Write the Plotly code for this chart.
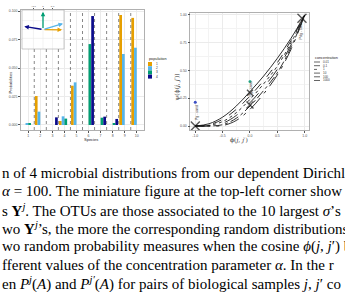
import plotly.graph_objects as go

W, H = 345, 292
def PX(px): return px / W
def PY(py): return 1 - py / H

# ---------------- data ----------------
species = [1, 2, 3, 4, 5, 6, 7, 8, 9, 10]
populations = ["1", "2", "3", "4"]
pop_colors = ["#E69F00", "#56B4E9", "#009E73", "#0B0B8A"]
pop1 = [0.0, 0.0254, 0.0, 0.0035, 0.0345, 0.0, 0.0, 0.0, 0.0965, 0.0940]
pop2 = [0.0012, 0.0117, 0.0, 0.0076, 0.0374, 0.0, 0.0, 0.0, 0.0623, 0.0678]
pop3 = [0.0010, 0.0, 0.0, 0.0056, 0.0, 0.0710, 0.0064, 0.0015, 0.0, 0.0]
pop4 = [0.0, 0.0, 0.0067, 0.0, 0.0, 0.0956, 0.0073, 0.0053, 0.0, 0.0]
pop_values = [pop1, pop2, pop3, pop4]
prob_ticks = [0.0, 0.025, 0.05, 0.075, 0.1]
prob_ticktext = ["0.000", "0.025", "0.050", "0.075", "0.100"]

# inset (2-D view of the Y^j vectors)
inset_x = [1.0, 1.05, 0.0, -0.98]
inset_y = [-0.02, 0.33, 1.0, 0.17]
inset_ticks = [-0.5, 0.0, 0.5]

# right panel
phi = [-1.0, -0.75, -0.5, -0.25, 0.0, 0.25, 0.5, 0.75, 1.0]
conc_labels = ["0.01", "0.1", "1", "10", "100", "1000"]
psi_c1 = [0.0, 0.020, 0.080, 0.180, 0.310, 0.450, 0.610, 0.790, 1.0]
psi_c2 = [0.0, 0.012, 0.060, 0.150, 0.270, 0.410, 0.570, 0.770, 1.0]
psi_c3 = [0.0, 0.006, 0.040, 0.120, 0.240, 0.380, 0.540, 0.750, 1.0]
psi_c4 = [0.0, 0.002, 0.025, 0.095, 0.210, 0.350, 0.510, 0.730, 1.0]
psi_c5 = [0.0, 0.000, 0.012, 0.070, 0.180, 0.320, 0.480, 0.710, 1.0]
psi_c6 = [0.0, 0.000, 0.004, 0.050, 0.150, 0.290, 0.460, 0.690, 1.0]
psi_curves = [psi_c1, psi_c2, psi_c3, psi_c4, psi_c5, psi_c6]
conc_dashes = ["solid", "dash", "dot", "longdash", "dashdot", "longdashdot"]
mark_phi = [-1.0, 0.0, 0.0, 0.95]
mark_psi = [0.0, 0.19, 0.30, 0.97]
mark_size = [9, 7, 6, 9]
pair_phi = [-1.0, 0.0]
pair_psi = [0.215, 0.40]
pair_colors = ["#3b4fc4", "#2bb59a"]
pair_label_phi = [-0.98, 0.02, 0.93]
pair_label_psi = [0.12, 0.33, 0.86]
pair_labels = ["Pg - sand", "Pg - sand", "Pdg - sand"]
phi_ticks = [-1.0, -0.5, 0.0, 0.5, 1.0]
psi_ticks = [0.0, 0.25, 0.5, 0.75, 1.0]
psi_ticktext = ["0.00", "0.25", "0.50", "0.75", "1.00"]

caption = [
    "n of 4 microbial distributions from our dependent Dirichl",
    "<i>α</i> = 100. The miniature figure at the top-left corner show",
    "s <b>Y</b><sup><i>j</i></sup>. The OTUs are those associated to the 10 largest <i>σ</i>’s",
    "wo <b>Y</b><sup><i>j</i></sup>’s, the more the corresponding random distributions",
    "wo random probability measures when the cosine <i>ϕ</i>(<i>j</i>, <i>j</i>′) be",
    "fferent values of the concentration parameter <i>α</i>. In the r",
    "en <i>P<sup>j</sup></i>(<i>A</i>) and <i>P<sup>j′</sup></i>(<i>A</i>) for pairs of biological samples <i>j</i>, <i>j</i>′ co",
]
caption_y = [173, 191, 210, 228, 246, 265, 283]

# ---------------- figure ----------------
fig = go.Figure()
for name, vals, col in zip(populations, pop_values, pop_colors):
    fig.add_trace(go.Bar(x=species, y=vals, name=name, marker_color=col,
                         marker_line_width=0, xaxis="x", yaxis="y", showlegend=False))

for c, ys, d in zip(conc_labels, psi_curves, conc_dashes):
    fig.add_trace(go.Scatter(x=phi, y=ys, mode="lines", line=dict(color="#1a1a1a", width=0.9, dash=d, shape="spline"),
                             xaxis="x3", yaxis="y3", showlegend=False, name=c))
fig.add_trace(go.Scatter(x=mark_phi, y=mark_psi, mode="markers",
                         marker=dict(symbol="x-thin", size=mark_size, line=dict(width=1.4, color="#111")),
                         xaxis="x3", yaxis="y3", showlegend=False))
fig.add_trace(go.Scatter(x=pair_phi, y=pair_psi, mode="markers",
                         marker=dict(size=3, color=pair_colors),
                         xaxis="x3", yaxis="y3", showlegend=False))

grid = "#ebebeb"
tf = dict(size=3.5, color="#555", family="Liberation Sans")
shapes = []
annotations = []

# dotted separators between species
for i in range(len(species) - 1):
    b = species[i] + 0.5
    shapes.append(dict(type="line", xref="x", yref="y domain", x0=b, x1=b, y0=0, y1=1,
                       line=dict(color="#555", width=0.7, dash="dot"), layer="above"))

# inset background + grid + border (covers main plot)
shapes.append(dict(type="rect", xref="x2 domain", yref="y2 domain", x0=0, x1=1, y0=0, y1=1,
                   fillcolor="white", line=dict(width=0), layer="above"))
for t in inset_ticks:
    shapes.append(dict(type="line", xref="x2", yref="y2 domain", x0=t, x1=t, y0=0, y1=1,
                       line=dict(color=grid, width=0.6), layer="above"))
    shapes.append(dict(type="line", xref="x2 domain", yref="y2", x0=0, x1=1, y0=t, y1=t,
                       line=dict(color=grid, width=0.6), layer="above"))
shapes.append(dict(type="rect", xref="x2 domain", yref="y2 domain", x0=0, x1=1, y0=0, y1=1,
                   line=dict(color="#aaa", width=0.6), layer="above"))
for xt, yt, col in zip(inset_x, inset_y, pop_colors):
    annotations.append(dict(x=xt, y=yt, ax=0, ay=0, xref="x2", yref="y2", axref="x2", ayref="y2",
                            text="", showarrow=True, arrowhead=2, arrowsize=0.7, arrowwidth=1.3,
                            arrowcolor=col))

# population legend (manual)
annotations.append(dict(x=PX(147), y=PY(59), xref="paper", yref="paper", text="population",
                        showarrow=False, xanchor="left", yanchor="middle",
                        font=dict(size=3.8, color="#222", family="Liberation Sans")))
for k, (name, col) in enumerate(zip(populations, pop_colors)):
    yc = 64 + 4.2 * k
    shapes.append(dict(type="rect", xref="paper", yref="paper", x0=PX(148), x1=PX(152),
                       y0=PY(yc + 2), y1=PY(yc - 2), fillcolor=col, line=dict(width=0)))
    annotations.append(dict(x=PX(153.5), y=PY(yc), xref="paper", yref="paper", text=name,
                            showarrow=False, xanchor="left", yanchor="middle",
                            font=dict(size=3.2, color="#333", family="Liberation Sans")))

# concentration legend (manual)
annotations.append(dict(x=PX(313), y=PY(58), xref="paper", yref="paper", text="concentration",
                        showarrow=False, xanchor="left", yanchor="middle",
                        font=dict(size=3.8, color="#222", family="Liberation Sans")))
for k, (c, d) in enumerate(zip(conc_labels, conc_dashes)):
    yc = 62 + 3.7 * k
    shapes.append(dict(type="line", xref="paper", yref="paper", x0=PX(314), x1=PX(320),
                       y0=PY(yc), y1=PY(yc), line=dict(color="#222", width=0.7, dash=d)))
    annotations.append(dict(x=PX(321), y=PY(yc), xref="paper", yref="paper", text=c,
                            showarrow=False, xanchor="left", yanchor="middle",
                            font=dict(size=3.0, color="#333", family="Liberation Sans")))

# right-panel pair labels
for lx, ly, lt in zip(pair_label_phi, pair_label_psi, pair_labels):
    annotations.append(dict(x=lx, y=ly, xref="x3", yref="y3", text=lt, textangle=-90,
                            showarrow=False, font=dict(size=3.5, color="#333", family="Liberation Sans")))

# axis titles
annotations += [
    dict(x=PX(6), y=PY(70), xref="paper", yref="paper", text="Probabilities", textangle=-90,
         showarrow=False, font=dict(size=4, color="#222", family="Liberation Sans")),
    dict(x=PX(82), y=PY(139.5), xref="paper", yref="paper", text="Species",
         showarrow=False, font=dict(size=4, color="#222", family="Liberation Sans")),
    dict(x=PX(176), y=PY(72), xref="paper", yref="paper", text="ψ(ϕ(<i>j</i>, <i>j</i>′))", textangle=-90,
         showarrow=False, font=dict(size=6, color="#333", family="DejaVu Serif")),
    dict(x=PX(250), y=PY(140), xref="paper", yref="paper", text="ϕ(<i>j</i>, <i>j</i>′)",
         showarrow=False, font=dict(size=6, color="#333", family="DejaVu Serif")),
]

# caption text
for t, yy in zip(caption, caption_y):
    annotations.append(dict(x=0, y=PY(yy), xref="paper", yref="paper", text=t, showarrow=False,
                            xanchor="left", yanchor="middle",
                            font=dict(size=15, color="#000", family="Liberation Serif")))

axis_common = dict(showline=True, mirror=True, linecolor="#b0b0b0", linewidth=0.6,
                   gridcolor=grid, gridwidth=0.6, zeroline=False, ticks="outside", ticklen=2,
                   tickwidth=0.5, tickcolor="#555", tickfont=tf)

fig.update_layout(
    width=W, height=H, autosize=False, margin=dict(l=0, r=0, t=0, b=0),
    paper_bgcolor="white", plot_bgcolor="white",
    barmode="group", bargap=0.1, bargroupgap=0,
    xaxis=dict(domain=[PX(21), PX(144)], range=[0.4, 10.6], anchor="y",
               tickvals=species, ticktext=[str(s) for s in species], **axis_common),
    yaxis=dict(domain=[PY(130), PY(10)], range=[-0.0044, 0.1009], anchor="x",
               tickvals=prob_ticks, ticktext=prob_ticktext, **axis_common),
    xaxis2=dict(domain=[PX(22), PX(64)], range=[-1.1, 1.1], anchor="y2", side="top",
                tickvals=inset_ticks, showgrid=False, showline=False, zeroline=False,
                ticks="outside", ticklen=1.5, tickwidth=0.5, tickcolor="#555",
                tickfont=dict(size=2.5, color="#555")),
    yaxis2=dict(domain=[PY(49), PY(10)], range=[-1.1, 1.1], anchor="x2",
                showgrid=False, showline=False, zeroline=False, showticklabels=False),
    xaxis3=dict(domain=[PX(190.3), PX(308.7)], range=[-1.091, 1.073], anchor="y3",
                tickvals=phi_ticks, ticktext=["-1.0", "-0.5", "0.0", "0.5", "1.0"],
                minor=dict(showgrid=True, gridcolor="#f3f3f3", dtick=0.25, tick0=0), **axis_common),
    yaxis3=dict(domain=[PY(130), PY(13.3)], range=[-0.036, 1.015], anchor="x3",
                tickvals=psi_ticks, ticktext=psi_ticktext,
                minor=dict(showgrid=True, gridcolor="#f3f3f3", dtick=0.125, tick0=0), **axis_common),
    shapes=shapes, annotations=annotations,
)

fig.write_html("out.html")
